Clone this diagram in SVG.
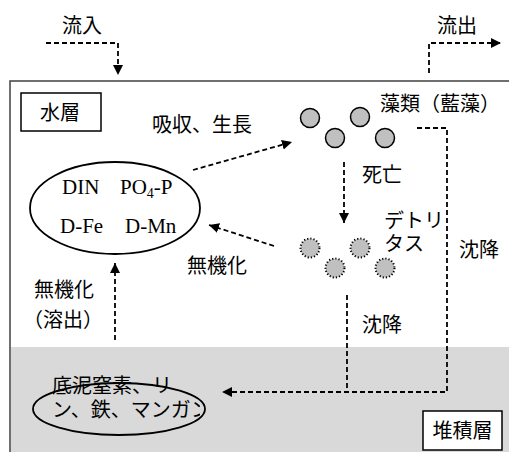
<svg xmlns="http://www.w3.org/2000/svg" width="509" height="452" viewBox="0 0 509 452">
<defs>
<style>
.jp{font-family:"Noto Sans CJK JP","Noto Sans",sans-serif;font-size:20px;fill:#000}
.en{font-family:"Liberation Serif",serif;font-size:21px;fill:#000}
.dash{fill:none;stroke:#000;stroke-width:1.8;stroke-dasharray:5 3}
.alg{fill:#c0c0c0;stroke:#000;stroke-width:1.5}
.det{fill:#c0c0c0;stroke:#000;stroke-width:2;stroke-dasharray:1.2 2}
.box{fill:#fff;stroke:#000;stroke-width:1.5}
</style>
<marker id="ah" viewBox="0 0 10 10" refX="10" refY="5" markerWidth="10" markerHeight="10" markerUnits="userSpaceOnUse" orient="auto">
<path d="M0,0 L10,5 L0,10 Z" fill="#000"/>
</marker>
<clipPath id="clipSed"><rect x="30" y="370" width="170" height="60"/></clipPath>
</defs>
<g id="layers">
<rect x="10" y="81" width="520" height="400" fill="#fff" stroke="#404040" stroke-width="1.5"/>
<rect x="11" y="347" width="520" height="120" fill="#d9d9d9"/>
</g>
<g id="inflow"><text class="jp" x="82" y="33" text-anchor="middle">流入</text></g>
<g id="outflow"><text class="jp" x="457" y="33" text-anchor="middle">流出</text></g>
<g id="water-label"><rect class="box" x="21" y="93" width="80" height="38"/><text class="jp" x="60" y="120" text-anchor="middle">水層</text></g>
<g id="sediment-label"><rect class="box" x="423" y="411" width="79" height="39"/><text class="jp" x="462.5" y="438" text-anchor="middle">堆積層</text></g>
<g id="nutrients">
<ellipse cx="115" cy="208" rx="85" ry="46" fill="#fff" stroke="#000" stroke-width="1.8"/>
<text class="en" x="62" y="194">DIN</text>
<text class="en" x="120" y="194">PO<tspan font-size="14" dy="4">4</tspan><tspan dy="-4">-P</tspan></text>
<text class="en" x="60" y="233">D-Fe</text>
<text class="en" x="125" y="233">D-Mn</text>
</g>
<g id="algae">
<circle class="alg" cx="310" cy="118" r="9.5"/>
<circle class="alg" cx="360" cy="117" r="9.5"/>
<circle class="alg" cx="335" cy="138" r="9.5"/>
<circle class="alg" cx="385" cy="138" r="9.5"/>
<text class="jp" x="380" y="111">藻類（藍藻）</text>
</g>
<g id="detritus">
<circle class="det" cx="310" cy="248" r="9.5"/>
<circle class="det" cx="360" cy="248" r="9.5"/>
<circle class="det" cx="335" cy="268" r="9.5"/>
<circle class="det" cx="385" cy="268" r="9.5"/>
<text class="jp" x="384" y="228">デトリ</text>
<text class="jp" x="384" y="251">タス</text>
</g>
<g id="sediment">
<ellipse cx="119" cy="409" rx="86" ry="26" fill="none" stroke="#000" stroke-width="1.8"/>
<g clip-path="url(#clipSed)">
<text class="jp" x="52" y="393">底泥窒素、リ</text>
<text class="jp" x="52" y="417">ン、鉄、マンガン</text>
</g>
</g>
<g id="connectors">
<path class="dash" d="M46,43 H118 V75" marker-end="url(#ah)"/>
<path class="dash" d="M429,73 V43 H501" marker-end="url(#ah)"/>
<path class="dash" d="M193,170 L292,142" marker-end="url(#ah)"/>
<path class="dash" d="M344,162 V223" marker-end="url(#ah)"/>
<path class="dash" d="M274,246 L209,225" marker-end="url(#ah)"/>
<path class="dash" d="M115,340 V263" marker-end="url(#ah)"/>
<path class="dash" d="M417,128 H447 V392 H222" marker-end="url(#ah)"/>
<path class="dash" d="M347,295 V392"/>
<text class="jp" x="152" y="132">吸収、生長</text>
<text class="jp" x="362" y="182">死亡</text>
<text class="jp" x="459" y="257">沈降</text>
<text class="jp" x="187" y="273">無機化</text>
<text class="jp" x="34" y="297">無機化</text>
<text class="jp" x="23" y="327">（溶出）</text>
<text class="jp" x="362" y="332">沈降</text>
</g>
</svg>
